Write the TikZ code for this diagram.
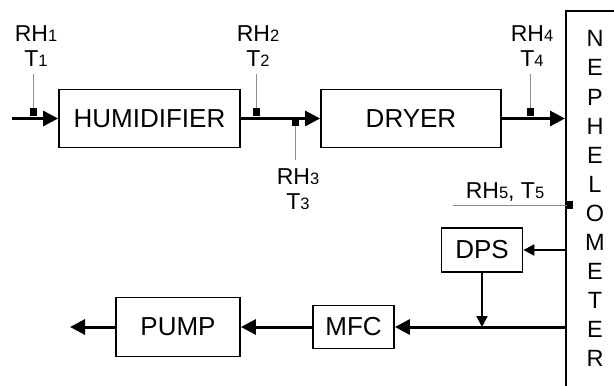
\documentclass[tikz,border=0pt]{standalone}
\usepackage{fontspec}
\setmainfont{Liberation Sans}
\usetikzlibrary{arrows.meta,positioning}
\newcommand{\idx}[1]{{\fontsize{16.5}{16.5}\selectfont#1}}

\begin{document}
\begin{tikzpicture}[x=1pt,y=-1pt,
 unit/.style={draw,line width=1.8pt,inner sep=0pt,font=\fontsize{26}{30}\selectfont},
 flow/.style={line width=3pt,-{Triangle[length=15pt,width=15pt]}},
 branch/.style={line width=2pt,-{Triangle[length=11pt,width=11pt]}},
 sensor/.style={fill=black,inner sep=0pt,minimum width=7pt,minimum height=8pt},
 probe/.style={draw=black!45,line width=0.8pt},
 tag/.style={inner sep=0pt,align=center,font=\fontsize{23}{25}\selectfont}]
\useasboundingbox (0,0) rectangle (614,386);
% units
\node[unit,minimum width=181pt,minimum height=58pt] (hum) at (149.5,118.5) {HUMIDIFIER};
\node[unit,minimum width=180pt,minimum height=58pt] (dry) at (411,118.5) {DRYER};
\node[draw,line width=2pt,inner sep=0pt,anchor=north west,minimum width=70pt,minimum height=400pt] (neph) at (565,10) {};
\node[tag,font=\fontsize{23.5}{29.1}\selectfont,anchor=north] (nephtxt) at (595,30.5) {N\\E\\P\\H\\E\\L\\O\\M\\E\\T\\E\\R};
\node[unit,minimum width=81pt,minimum height=44pt] (dps) at (482,250) {DPS};
\node[unit,minimum width=81pt,minimum height=43pt] (mfc) at (353.5,327) {MFC};
\node[unit,minimum width=124pt,minimum height=59pt] (pump) at (178,327) {PUMP};
\coordinate (inlet) at (12,118.5);
\coordinate (outlet) at (70,327);
% flow
\draw[flow] (inlet) -- (hum.west);
\draw[flow] (hum.east) -- (dry.west);
\draw[flow] (dry.east) -- (dry.east -| neph.west);
\draw[branch] (dps.east -| neph.west) -- (dps.east);
\draw[flow] (neph.west |- mfc.east) -- (mfc.east);
\draw[branch] (dps.south) -- (dps.south |- mfc.east);
\draw[flow] (mfc.west) -- (pump.east);
\draw[flow] (pump.west) -- (outlet);
% sensors
\node[sensor] (s1) at (33,112) {};
\node[sensor] (s2) at (256,112) {};
\node[sensor] (s3) at (295,122) {};
\node[sensor] (s4) at (530,112) {};
\node[sensor,minimum width=6pt] (s5) at (570,205) {};
\node[tag,anchor=north] (t1) at (36,25) {RH\idx{1}\\T\idx{1}};
\node[tag,anchor=north] (t2) at (258,25) {RH\idx{2}\\T\idx{2}};
\node[tag,anchor=north] (t3) at (298,168) {RH\idx{3}\\T\idx{3}};
\node[tag,anchor=north] (t4) at (532,25) {RH\idx{4}\\T\idx{4}};
\node[tag,anchor=north] (t5) at (505,182) {RH\idx{5}, T\idx{5}};
\coordinate (p5) at (453,205);
\draw[probe,shorten >=8pt] (s1.north) -- (s1.north |- t1.south);
\draw[probe,shorten >=8pt] (s2.north) -- (s2.north |- t2.south);
\draw[probe,shorten >=8pt] (s3.south) -- (s3.south |- t3.north);
\draw[probe,shorten >=8pt] (s4.north) -- (s4.north |- t4.south);
\draw[probe] (s5.west) -- (p5);
\end{tikzpicture}
\end{document}
